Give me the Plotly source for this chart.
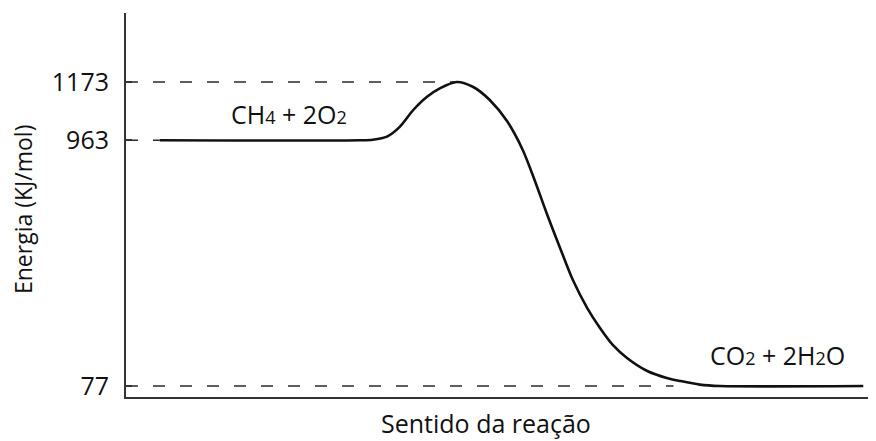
import plotly.graph_objects as go

# Reaction coordinate (0-100) and energy (kJ/mol)
progress = [4.5, 31.2, 32.9, 34.8, 36.5, 38.3, 40.1, 41.9, 44.1, 46.3, 48.5, 50.8,
            52.9, 54.5, 56.1, 57.9, 59.6, 61.5, 63.2, 64.9, 66.8, 69.5, 72.1,
            73.9, 76.5, 79.2, 98.3]
energy = [963, 963, 965, 976, 1011, 1072, 1119, 1151, 1173, 1155, 1108, 1032,
          928, 818, 699, 573, 458, 358, 286, 225, 178, 131, 106,
          95, 82, 77, 77]

tick_values = [77, 963, 1173]
tick_labels = ["77", "963", "1173"]

guide_levels = [1173, 963, 77]
guide_ends = [44.1, 4.5, 73.0]

reactant_label = "CH<span style='font-size:18px'>4</span> + 2O<span style='font-size:18px'>2</span>"
product_label = "CO<span style='font-size:18px'>2</span> + 2H<span style='font-size:18px'>2</span>O"
x_title = "Sentido da reação"
y_title = "Energia (KJ/mol)"

FONT = "Open Sans"
TXT = "#111111"

fig = go.Figure()

for lvl, end in zip(guide_levels, guide_ends):
    fig.add_trace(go.Scatter(
        x=[0, end], y=[lvl, lvl], mode="lines",
        line=dict(color="#2a2a2a", width=1.7, dash="12px,15px"),
        hoverinfo="skip", showlegend=False))

fig.add_trace(go.Scatter(
    x=progress, y=energy, mode="lines",
    line=dict(color="#111111", width=2.6, shape="spline", smoothing=0.8),
    showlegend=False))

# The page body adds an 8px offset; the figure is sized to fit inside it.
fig.update_layout(
    width=868, height=433,
    margin=dict(l=118, r=0, t=5, b=44),
    paper_bgcolor="white", plot_bgcolor="white",
    font=dict(family=FONT, color=TXT),
    xaxis=dict(range=[0, 100], showgrid=False, zeroline=False,
               showticklabels=False, ticks="", showline=True,
               linecolor="#333333", linewidth=2),
    yaxis=dict(range=[37.35, 1421.7], showgrid=False, zeroline=False,
               tickvals=tick_values, ticktext=tick_labels,
               ticks="inside", ticklen=6, tickwidth=1.5, tickcolor="#333333",
               tickfont=dict(family=FONT, size=25, color=TXT),
               ticklabelstandoff=10,
               showline=True, linecolor="#333333", linewidth=2),
    annotations=[
        dict(text=reactant_label, x=21.7, y=1057, xref="x", yref="y",
             showarrow=False, xanchor="center", yanchor="middle",
             font=dict(family=FONT, size=25, color=TXT)),
        dict(text=product_label, x=86.8, y=190, xref="x", yref="y",
             showarrow=False, xanchor="center", yanchor="middle",
             font=dict(family=FONT, size=25, color=TXT)),
        dict(text=x_title, x=0.48, y=-0.069, xref="paper", yref="paper",
             showarrow=False, xanchor="center", yanchor="middle",
             font=dict(family=FONT, size=25, color=TXT)),
        dict(text=y_title, x=-0.1373, y=0.487, xref="paper", yref="paper",
             showarrow=False, xanchor="center", yanchor="middle", textangle=-90,
             font=dict(family=FONT, size=23, color=TXT)),
    ],
)

fig.write_html("out.html")
